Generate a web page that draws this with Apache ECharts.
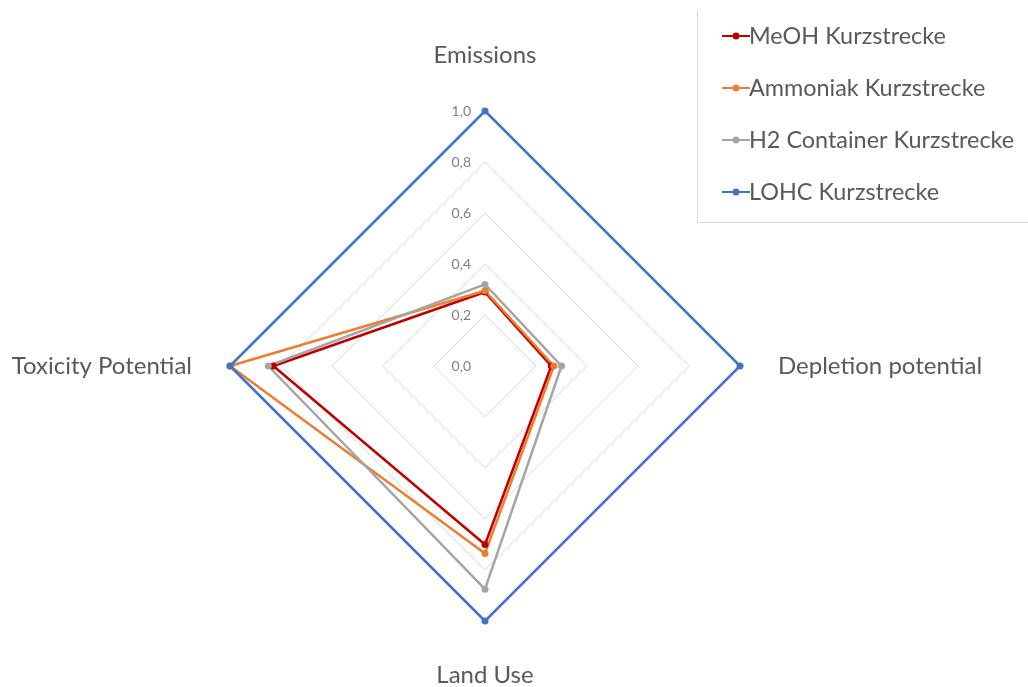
<!DOCTYPE html>
<html>
<head>
<meta charset="utf-8">
<style>
  html, body { margin: 0; padding: 0; background: #fff; }
  #chart { width: 1028px; height: 687px; }
</style>
<script src="https://cdn.jsdelivr.net/npm/echarts@6/dist/echarts.min.js"></script>
</head>
<body>
<div id="chart"></div>
<script>
// Indicators in the order ECharts places them (counter-clockwise from the top)
const indicatorNames = ['Emissions', 'Toxicity Potential', 'Land Use', 'Depletion potential'];
const seriesNames = ['MeOH Kurzstrecke', 'Ammoniak Kurzstrecke', 'H2 Container Kurzstrecke', 'LOHC Kurzstrecke'];
const seriesColors = ['#C00000', '#ED7D31', '#A5A5A5', '#4472C4'];

// Values per indicator: Emissions, Toxicity Potential, Land Use, Depletion potential
const meohValues = [0.29, 0.83, 0.70, 0.26];
const ammoniakValues = [0.295, 1.0, 0.735, 0.27];
const h2ContainerValues = [0.32, 0.85, 0.875, 0.30];
const lohcValues = [1.0, 1.0, 1.0, 1.0];

const tickValues = [0, 0.2, 0.4, 0.6, 0.8, 1.0];

const allValues = [meohValues, ammoniakValues, h2ContainerValues, lohcValues];

const textColor = '#595959';
const fontFamily = 'Lato, "Open Sans", sans-serif';
const nameSize = 24;
const legendSize = 23.4;

// Legend marker: short line with a dot in the middle
const lineDotIcon = 'path://M0,3 L10.5,3 L10.5,5 L0,5 Z M17.5,3 L28,3 L28,5 L17.5,5 Z M10.5,4 A3.5,3.5 0 1,1 17.5,4 A3.5,3.5 0 1,1 10.5,4 Z';

const chart = echarts.init(document.getElementById('chart'));

const option = {
  backgroundColor: '#ffffff',
  animation: false,
  textStyle: { fontFamily: fontFamily },
  radar: {
    center: [485, 366],
    radius: 255,
    startAngle: 90,
    shape: 'polygon',
    splitNumber: 5,
    nameGap: 38,
    indicator: indicatorNames.map(n => ({ name: n, min: 0, max: 1 })),
    axisName: {
      color: textColor,
      fontSize: nameSize,
      fontFamily: fontFamily,
      formatter: function (name) {
        if (name === 'Emissions') return '{up|' + name + '}';
        if (name === 'Land Use') return '{down|' + name + '}';
        return name;
      },
      rich: {
        up: { fontSize: nameSize, color: textColor, fontFamily: fontFamily, padding: [0, 0, 6, 0] },
        down: { fontSize: nameSize, color: textColor, fontFamily: fontFamily, padding: [4, 0, 0, 0] }
      }
    },
    axisLine: { show: false },
    axisTick: { show: false },
    axisLabel: { show: false },
    splitArea: { show: false },
    splitLine: { lineStyle: { color: '#d9d9d9', width: 1 } }
  },
  // Value scale labels along the upward spoke
  grid: { left: 485, top: 111, width: 1, height: 255 },
  xAxis: { type: 'value', show: false },
  yAxis: {
    type: 'value',
    min: 0,
    max: 1,
    interval: 0.2,
    axisLine: { show: false },
    axisTick: { show: false },
    splitLine: { show: false },
    axisLabel: {
      margin: 14,
      color: '#7f7f7f',
      fontSize: 14,
      fontFamily: fontFamily,
      formatter: v => tickValues.includes(+v.toFixed(1)) ? v.toFixed(1).replace('.', ',') : ''
    }
  },
  legend: {
    orient: 'vertical',
    left: 717,
    top: 19,
    itemWidth: 28,
    itemHeight: 8,
    itemGap: 28,
    data: seriesNames.map(n => ({ name: n, icon: lineDotIcon })),
    textStyle: { color: textColor, fontSize: legendSize, fontFamily: fontFamily, lineHeight: 24, padding: [0, 0, 0, -6] }
  },
  graphic: [{
    type: 'polyline',
    shape: { points: [[697.5, 10], [697.5, 222.5], [1030, 222.5]] },
    style: { stroke: '#d9d9d9', lineWidth: 1, fill: null },
    silent: true
  }],
  series: [{
    type: 'radar',
    symbol: 'circle',
    symbolSize: 7,
    data: seriesNames.map((name, i) => ({
      name: name,
      value: allValues[i],
      itemStyle: { color: seriesColors[i] },
      lineStyle: { color: seriesColors[i], width: 2.5 }
    }))
  }]
};

chart.setOption(option);
</script>
</body>
</html>
